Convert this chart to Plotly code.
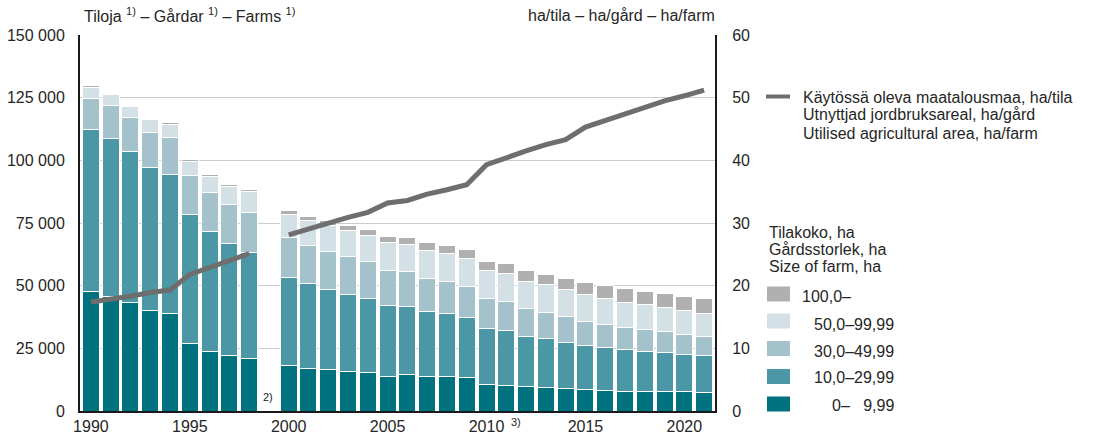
import plotly.graph_objects as go

# ---------------- data ----------------
years = [1990, 1991, 1992, 1993, 1994, 1995, 1996, 1997, 1998,
         2000, 2001, 2002, 2003, 2004, 2005, 2006, 2007, 2008, 2009, 2010,
         2011, 2012, 2013, 2014, 2015, 2016, 2017, 2018, 2019, 2020, 2021]

# number of farms, thousands
size_0_10 = [47.5, 45.6, 43.2, 39.9, 38.9, 26.9, 23.8, 22.2, 21.1,
             18.3, 17.0, 16.4, 15.8, 15.4, 13.9, 14.5, 13.8, 13.8, 13.4, 10.7,
             10.2, 9.7, 9.4, 8.8, 8.5, 8.0, 7.8, 7.7, 7.6, 7.6, 7.4]
size_10_30 = [64.7, 63.0, 60.4, 57.1, 55.4, 51.5, 47.7, 44.7, 42.3,
              35.1, 33.8, 32.1, 30.8, 29.4, 28.0, 27.2, 25.9, 25.1, 23.9, 22.2,
              21.8, 20.1, 19.4, 18.7, 17.6, 17.2, 16.6, 16.1, 15.8, 15.0, 14.6]
size_30_50 = [12.6, 13.2, 13.3, 14.3, 15.0, 15.4, 15.5, 15.6, 15.9,
              15.7, 15.3, 15.3, 15.0, 14.8, 14.3, 13.9, 13.3, 12.8, 12.3, 11.9,
              11.8, 11.2, 10.6, 10.2, 9.6, 9.3, 8.9, 8.8, 8.3, 7.9, 7.7]
size_50_100 = [4.4, 4.3, 4.6, 4.8, 5.0, 5.7, 6.4, 6.9, 8.1,
               9.3, 9.9, 10.2, 10.4, 10.6, 11.0, 11.0, 11.2, 11.2, 11.3, 11.3,
               11.0, 10.7, 10.9, 10.8, 10.6, 10.2, 10.1, 9.7, 9.6, 9.4, 9.2]
size_100 = [0.5, 0.4, 0.5, 0.5, 0.7, 0.8, 0.9, 0.9, 1.1,
            1.7, 1.7, 1.9, 2.0, 2.1, 2.6, 2.8, 3.2, 3.2, 3.4, 3.7,
            4.0, 4.3, 4.3, 4.4, 4.9, 5.2, 5.3, 5.5, 5.7, 5.9, 5.8]

line_years = [1990, 1991, 1992, 1993, 1994, 1995, 1996, 1997, 1998, 1999,
              2000, 2001, 2002, 2003, 2004, 2005, 2006, 2007, 2008, 2009, 2010,
              2011, 2012, 2013, 2014, 2015, 2016, 2017, 2018, 2019, 2020, 2021]
ha_per_farm = [17.4, 17.8, 18.3, 18.9, 19.3, 21.8, 22.9, 24.1, 25.1, None,
               28.1, 29.1, 30.1, 30.9, 31.7, 33.2, 33.6, 34.6, 35.3, 36.1, 39.3,
               40.5, 41.5, 42.5, 43.3, 45.3, 46.4, 47.4, 48.5, 49.5, 50.3, 51.2]

series_names = ["0–   9,99", "10,0–29,99", "30,0–49,99", "50,0–99,99", "100,0–"]
series_values = [size_0_10, size_10_30, size_30_50, size_50_100, size_100]
series_colors = ["#00717f", "#4b97a6", "#a4c2cb", "#d3e0e6", "#b0b0b0"]

x_tickvals = [1990, 1995, 2000, 2005, 2010, 2015, 2020]
x_ticktext = ["1990", "1995", "2000", "2005", "2010", "2015", "2020"]
y_tickvals = [0, 25000, 50000, 75000, 100000, 125000, 150000]
y_ticktext = ["0", "25 000", "50 000", "75 000", "100 000", "125 000", "150 000"]
y2_tickvals = [0, 10, 20, 30, 40, 50, 60]
y2_ticktext = ["0", "10", "20", "30", "40", "50", "60"]

line_label = ["Käytössä oleva maatalousmaa, ha/tila",
              "Utnyttjad jordbruksareal, ha/gård",
              "Utilised agricultural area, ha/farm"]
size_title = ["Tilakoko, ha", "Gårdsstorlek, ha", "Size of farm, ha"]

# ---------------- layout geometry ----------------
W, H = 1094, 435
L, R, T, B = 80, 379, 35, 24
PW, PH = W - L - R, H - T - B
FONT = "Liberation Sans, Arial, sans-serif"
TXT = "#262626"


def px(x):
    return (x - L) / PW


def py(y):
    return (H - B - y) / PH


fig = go.Figure()
for name, vals, col in zip(series_names, series_values, series_colors):
    fig.add_trace(go.Bar(
        x=years, y=[v * 1000 for v in vals], name=name,
        marker=dict(color=col, line=dict(color="white", width=1)),
        showlegend=False))

fig.add_trace(go.Scatter(
    x=line_years, y=ha_per_farm, yaxis="y2", mode="lines",
    line=dict(color="#6e6e6e", width=5), connectgaps=False, showlegend=False))

ann = []
shapes = []

# top titles
ann.append(dict(text="Tiloja <sup>1)</sup> – Gårdar <sup>1)</sup> – Farms <sup>1)</sup>",
                x=px(82), y=py(15), xanchor="left", yanchor="middle"))
ann.append(dict(text="ha/tila – ha/gård – ha/farm",
                x=px(717), y=py(15), xanchor="right", yanchor="middle"))
# footnote marks
ann.append(dict(text="2)", x=px(268), y=py(397), xanchor="center", yanchor="middle",
                font=dict(size=11)))
ann.append(dict(text="3)", x=px(516), y=py(422), xanchor="center", yanchor="middle",
                font=dict(size=11)))

# line legend
shapes.append(dict(type="line", xref="paper", yref="paper",
                   x0=px(766), x1=px(790), y0=py(96.5), y1=py(96.5),
                   line=dict(color="#6e6e6e", width=4)))
for i, t in enumerate(line_label):
    ann.append(dict(text=t, x=px(801), y=py(97 + 18 * i), xanchor="left", yanchor="middle"))

# size legend
for i, t in enumerate(size_title):
    ann.append(dict(text=t, x=px(767), y=py(232 + 17.3 * i), xanchor="left", yanchor="middle"))

sw_y = [294, 321, 348.5, 376.5, 404]
lab_y = [296.5, 324.5, 351.5, 377, 405]
leg_order = [4, 3, 2, 1, 0]
for k, idx in enumerate(leg_order):
    shapes.append(dict(type="rect", xref="paper", yref="paper",
                       x0=px(767), x1=px(790), y0=py(sw_y[k] - 7.5), y1=py(sw_y[k] + 7.5),
                       fillcolor=series_colors[idx], line=dict(width=0)))
    if idx == 4:
        ann.append(dict(text=series_names[idx], x=px(800), y=py(lab_y[k]),
                        xanchor="left", yanchor="middle"))
    else:
        ann.append(dict(text=series_names[idx].replace("   ", "\u00a0\u00a0\u00a0"),
                        x=px(896), y=py(lab_y[k]), xanchor="right", yanchor="middle"))

for a in ann:
    a.setdefault("xref", "paper")
    a.setdefault("yref", "paper")
    a["showarrow"] = False
    f = a.get("font", {})
    f.setdefault("size", 16)
    f.setdefault("color", TXT)
    f.setdefault("family", FONT)
    a["font"] = f

fig.update_layout(
    template="none",
    width=W, height=H,
    margin=dict(l=L, r=R, t=T, b=B, pad=0),
    paper_bgcolor="white", plot_bgcolor="white",
    barmode="stack", bargap=0.14,
    font=dict(family=FONT, size=16, color=TXT),
    xaxis=dict(range=[1989.45, 2021.55], tickvals=x_tickvals, ticktext=x_ticktext,
               showgrid=False, zeroline=False, showline=True, linecolor="#1a1a1a",
               linewidth=2, ticks="", ticklabelstandoff=0, automargin=False,
               tickfont=dict(size=16, color=TXT)),
    yaxis=dict(range=[0, 150000], tickvals=y_tickvals, ticktext=y_ticktext,
               showgrid=True, gridcolor="#cccccc", gridwidth=1, zeroline=False,
               showline=True, linecolor="#1a1a1a", linewidth=2, ticks="",
               ticklabelstandoff=10, automargin=False, tickfont=dict(size=16, color=TXT)),
    yaxis2=dict(range=[0, 60], tickvals=y2_tickvals, ticktext=y2_ticktext,
                overlaying="y", side="right", showgrid=False, zeroline=False,
                showline=True, linecolor="#1a1a1a", linewidth=2, ticks="",
                ticklabelstandoff=12, automargin=False, tickfont=dict(size=16, color=TXT)),
    annotations=ann,
    shapes=shapes,
)

fig.write_html("out.html", config={"displayModeBar": False},
               post_script="document.body.style.margin='0';document.body.style.overflow='hidden';")
